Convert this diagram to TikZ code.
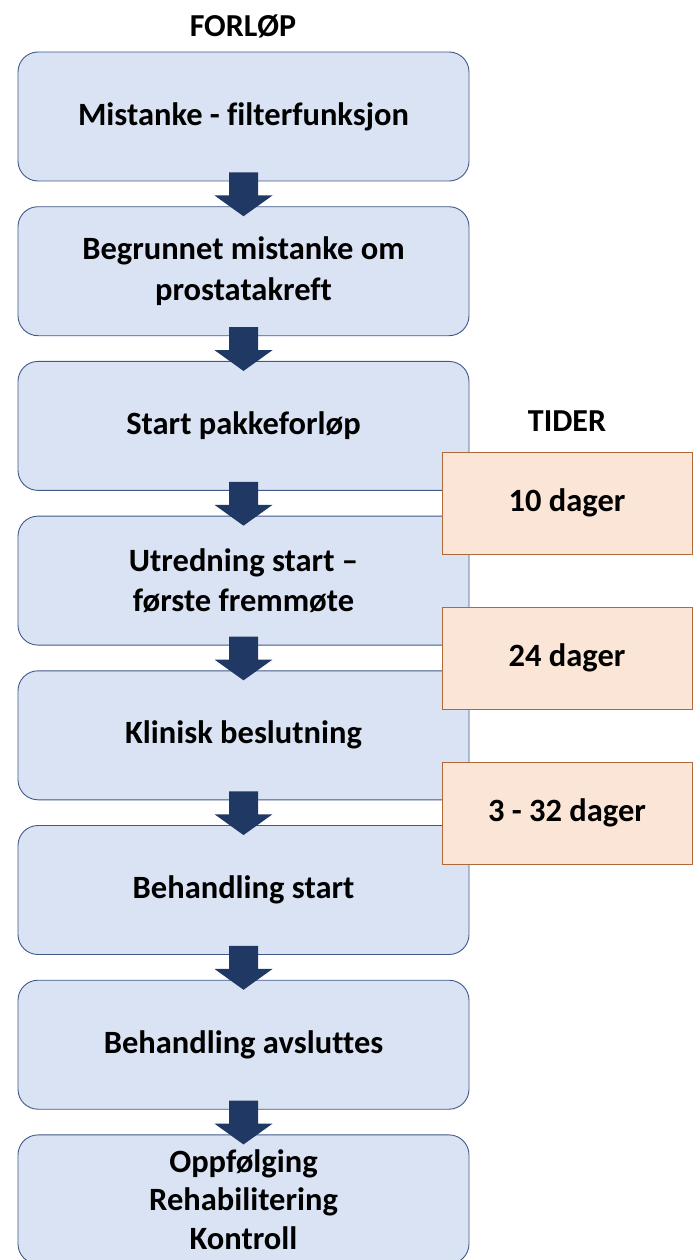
\documentclass[tikz,border=0pt]{standalone}
\usepackage{fontspec}
\setmainfont{Carlito}[Ligatures=NoCommon]
\usetikzlibrary{calc}
\definecolor{boxfill}{HTML}{DAE3F3}
\definecolor{boxline}{HTML}{41598A}
\definecolor{navy}{HTML}{203864}
\definecolor{tfill}{HTML}{FBE5D6}
\definecolor{tline}{HTML}{AE6A3A}
\tikzset{
  stagebox/.style={draw=boxline, line width=0.9pt, fill=boxfill, rounded corners=20pt,
    minimum width=451pt, minimum height=129pt, align=center, inner sep=0pt,
    font=\bfseries\fontsize{32.5}{40.5}\selectfont},
  timebox/.style={draw=tline, line width=0.9pt, fill=tfill,
    minimum width=250pt, minimum height=102pt, align=center, inner sep=0pt,
    font=\bfseries\fontsize{32.5}{40.5}\selectfont},
  heading/.style={font=\bfseries\fontsize{32}{36}\selectfont, inner sep=0pt},
  arrowfill/.style={fill=navy}
}
\newcommand\dnarrow[2]{%
  \fill[arrowfill] ($(#1.south)+(-14.5,-9)$) -- ($(#1.south)+(14.5,-9)$)
    -- ($(#1.south)+(14.5,14)$) -- ($(#1.south)+(29,14)$)
    -- ($(#2.north)+(0,10)$)
    -- ($(#1.south)+(-29,14)$) -- ($(#1.south)+(-14.5,14)$) -- cycle;}
\begin{document}
\begin{tikzpicture}[x=1pt,y=-1pt]
\useasboundingbox (0,0) rectangle (695,1260);
\node[heading] (forlop) at (243,26) {FORLØP};
\node[heading] (tider) at (567,421) {TIDER};
\node[stagebox] (b1) at (243.5,116.5) {Mistanke - filterfunksjon};
\node[stagebox] (b2) at (243.5,271.2) {Begrunnet mistanke om\\prostatakreft};
\node[stagebox] (b3) at (243.5,425.9) {Start pakkeforløp};
\node[stagebox] (b4) at (243.5,580.6) {Utredning start –\\første fremmøte};
\node[stagebox] (b5) at (243.5,735.3) {Klinisk beslutning};
\node[stagebox] (b6) at (243.5,890.0) {Behandling start};
\node[stagebox] (b7) at (243.5,1044.7) {Behandling avsluttes};
\node[stagebox, font=\bfseries\fontsize{32.5}{38.5}\selectfont] (b8) at (243.5,1199.4) {Oppfølging\\Rehabilitering\\Kontroll};
\dnarrow{b1}{b2}
\dnarrow{b2}{b3}
\dnarrow{b3}{b4}
\dnarrow{b4}{b5}
\dnarrow{b5}{b6}
\dnarrow{b6}{b7}
\dnarrow{b7}{b8}
\node[timebox] (t1) at (567,503) {10 dager};
\node[timebox] (t2) at (567,658) {24 dager};
\node[timebox] (t3) at (567,813) {3 - 32 dager};
\end{tikzpicture}
\end{document}
